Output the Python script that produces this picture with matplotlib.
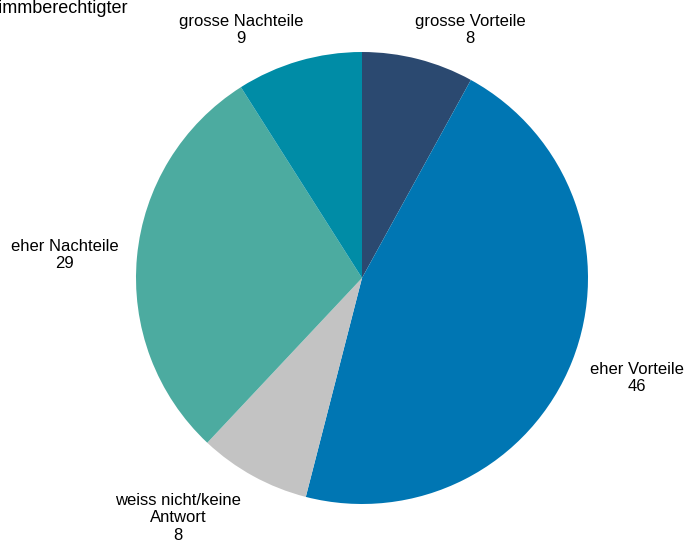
import matplotlib.pyplot as plt

plt.rcParams['font.family'] = ['Liberation Sans', 'DejaVu Sans']

categories = ['grosse Vorteile', 'eher Vorteile', 'weiss nicht/keine\nAntwort',
              'eher Nachteile', 'grosse Nachteile']
values = [8, 46, 8, 29, 9]
colors = ['#2B4970', '#0076B3', '#C3C3C3', '#4CABA0', '#008CA6']
title = 'in % Stimmberechtigter'

# label anchor points in pixels (x, y from top)
label_pos = [(470, 30), (637, 378), (178, 518), (65, 255), (241, 30)]

W, H = 686, 544
fig = plt.figure(figsize=(W / 100, H / 100), dpi=100)
ax = fig.add_axes([0, 0, 1, 1])

ax.pie(values, colors=colors, startangle=90, counterclock=False,
       center=(362, H - 278), radius=226, frame=True,
       wedgeprops=dict(linewidth=0))
ax.set_xlim(0, W)
ax.set_ylim(0, H)
ax.set_aspect('equal')
ax.axis('off')

for cat, val, (x, y) in zip(categories, values, label_pos):
    ax.text(x, H - y, f'{cat}\n{val}', ha='center', va='center',
            fontsize=12, linespacing=1.2, color='#000000')

# heading sits partly outside the canvas on the left
ax.text(127.5, H - 13, title, ha='right', va='baseline', fontsize=13)

fig.savefig('out.png', dpi=100)
